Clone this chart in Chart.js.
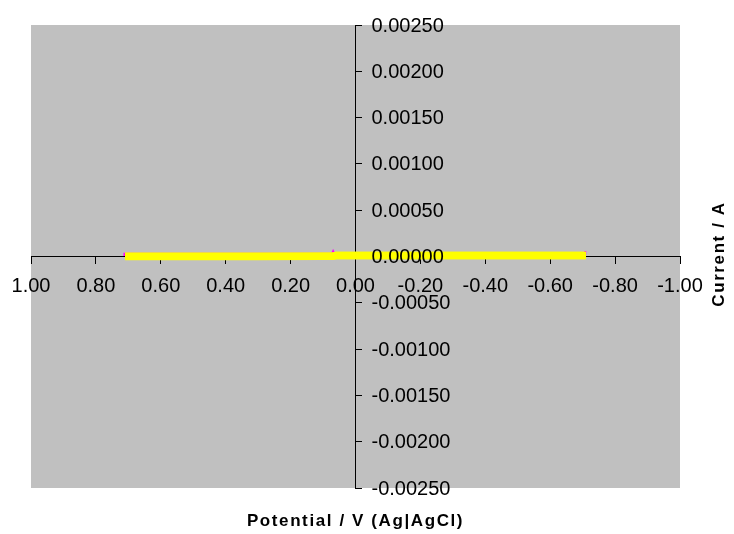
<!DOCTYPE html>
<html lang="en">
<head>
    <meta charset="UTF-8">
    <title>Cyclic Voltammogram</title>
    <script src="https://cdn.jsdelivr.net/npm/chart.js@4.4.1/dist/chart.umd.min.js"></script>
    <style>
        body {
            margin: 0;
            background: #fff;
        }
        #wrap {
            width: 734px;
            height: 534px;
            position: relative;
        }
    </style>
</head>
<body>
    <div id="wrap"><canvas id="cvChart"></canvas></div>

    <script>
        // Potential (V vs Ag|AgCl) and current (A) for the scan
        const potential = [0.71, 0.5, 0.3, 0.1, 0.07, 0.06, -0.1, -0.3, -0.5, -0.71];
        const forwardCurrent = [0.000001, 0.000001, 0.000001, 0.000002, 0.000002, 0.000010, 0.000010, 0.000010, 0.000011, 0.000011];
        const reverseCurrent = [0.000003, 0.000003, 0.000003, 0.000004, 0.000004, 0.000012, 0.000012, 0.000012, 0.000012, 0.000012];

        // second trace, mostly hidden under the first
        const tracePotential = [0.712, 0.712, 0.072, 0.069, 0.066, -0.708, -0.708];
        const traceCurrent = [0.000005, 0.00003, 0.00003, 0.000055, 0.00003, 0.00003, 0.00006];

        const xTicks = [1.0, 0.8, 0.6, 0.4, 0.2, 0.0, -0.2, -0.4, -0.6, -0.8, -1.0];
        const yTicks = [0.0025, 0.002, 0.0015, 0.001, 0.0005, 0, -0.0005, -0.001, -0.0015, -0.002, -0.0025];

        const xTitle = 'Potential / V (Ag|AgCl)';
        const yTitle = 'Current / A';

        const FONT = '"Liberation Sans", Arial, sans-serif';

        const toPoints = (xs, ys) => xs.map((x, i) => ({ x: x, y: ys[i] }));

        const clean = v => (Math.abs(v) < 1e-12 ? 0 : v);

        // grey plot area + y tick labels to the right of the axis + axis titles
        const plotDecor = {
            id: 'plotDecor',
            beforeDraw(chart) {
                const { ctx, chartArea: a } = chart;
                ctx.save();
                ctx.fillStyle = '#ffffff';
                ctx.fillRect(0, 0, chart.width, chart.height);
                ctx.fillStyle = '#c0c0c0';
                ctx.fillRect(a.left, a.top, a.right - a.left, a.bottom - a.top);
                ctx.restore();
            },
            afterDraw(chart) {
                const { ctx, chartArea: a } = chart;
                const xs = chart.scales.x, ys = chart.scales.y;
                const axisX = xs.getPixelForValue(0);
                ctx.save();
                ctx.fillStyle = '#000';
                ctx.font = '20px ' + FONT;
                ctx.textAlign = 'left';
                ctx.textBaseline = 'middle';
                yTicks.forEach(v => {
                    ctx.fillText(clean(v).toFixed(5), axisX + 16, ys.getPixelForValue(v) + 1);
                });

                ctx.font = 'bold 17px ' + FONT;
                ctx.letterSpacing = '1.6px';
                ctx.textAlign = 'center';
                ctx.fillText(xTitle, (a.left + a.right) / 2, 521);

                ctx.translate(719, 254);
                ctx.rotate(-Math.PI / 2);
                ctx.fillText(yTitle, 0, 0);
                ctx.restore();
            }
        };

        const scanStyle = {
            showLine: true,
            borderColor: '#ffff00',
            backgroundColor: '#ffff00',
            borderWidth: 7.5,
            pointRadius: 0,
            tension: 0,
            order: 0
        };

        new Chart(document.getElementById('cvChart'), {
            type: 'scatter',
            data: {
                datasets: [
                    Object.assign({ label: 'Forward', data: toPoints(potential, forwardCurrent) }, scanStyle),
                    Object.assign({ label: 'Reverse', data: toPoints(potential, reverseCurrent).reverse() }, scanStyle),
                    {
                        label: 'Trace',
                        data: toPoints(tracePotential, traceCurrent),
                        showLine: true,
                        borderColor: '#ff00ff',
                        backgroundColor: '#ff00ff',
                        borderWidth: 2,
                        pointRadius: 0,
                        tension: 0,
                        order: 1
                    }
                ]
            },
            options: {
                responsive: true,
                maintainAspectRatio: false,
                animation: false,
                layout: {
                    padding: { left: 31, right: 54, top: 25, bottom: 46 }
                },
                plugins: {
                    legend: { display: false },
                    tooltip: { enabled: false }
                },
                scales: {
                    x: {
                        type: 'linear',
                        reverse: true,
                        min: -1,
                        max: 1,
                        position: { y: 0 },
                        afterBuildTicks: scale => {
                            scale.ticks = xTicks.map(v => ({ value: v }));
                        },
                        ticks: {
                            autoSkip: false,
                            maxRotation: 0,
                            padding: 11,
                            color: '#000',
                            font: { family: FONT, size: 20 },
                            callback: v => clean(v).toFixed(2)
                        },
                        grid: {
                            drawOnChartArea: false,
                            drawTicks: true,
                            tickLength: 7,
                            color: '#000'
                        },
                        border: { color: '#000', width: 1 }
                    },
                    y: {
                        type: 'linear',
                        min: -0.0025,
                        max: 0.0025,
                        position: { x: 0 },
                        z: 1,
                        afterBuildTicks: scale => {
                            scale.ticks = yTicks.map(v => ({ value: v }));
                        },
                        ticks: { display: false },
                        grid: {
                            drawOnChartArea: false,
                            drawTicks: true,
                            tickLength: -7,
                            color: '#000'
                        },
                        border: { color: '#000', width: 1 }
                    }
                }
            },
            plugins: [plotDecor]
        });
    </script>
</body>
</html>
